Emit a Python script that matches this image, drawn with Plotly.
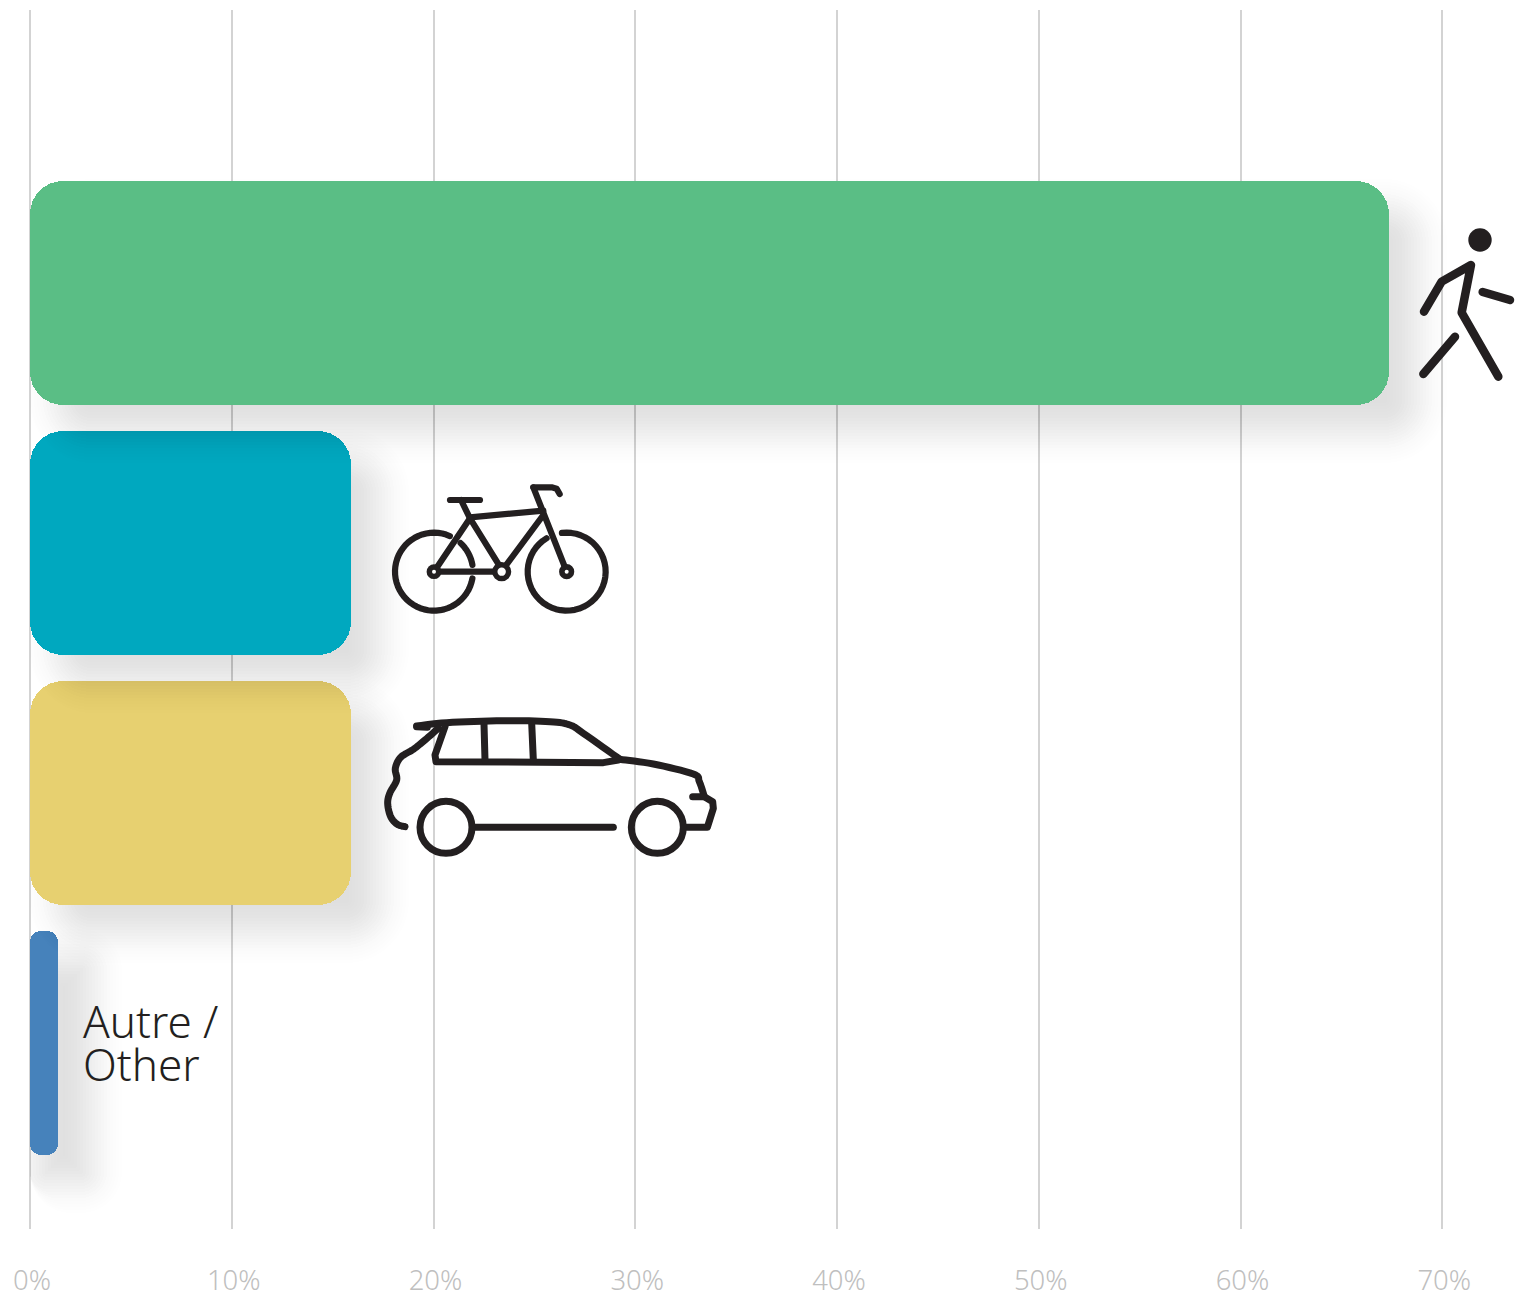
import math
import plotly.graph_objects as go

# ---- data ----
categories = ["Marche / Walk", "Vélo / Bike", "Voiture / Car", "Autre / Other"]
values = [67.35, 15.9, 15.9, 1.4]
colors = ["#5abe85", "#00a8bf", "#e7d070", "#4682bb"]
corner_radii = [33, 33, 33, 11]
tick_values = [0, 10, 20, 30, 40, 50, 60, 70]
tick_labels = ["0%", "10%", "20%", "30%", "40%", "50%", "60%", "70%"]
other_label = "Autre /<br>Other"

W, H = 1524, 1294
ML, MT, MB = 20, 10, 65
X0_PX = 30
PW, PH = W - ML, H - MT - MB
PX_PER_UNIT = 201.75 / 10
BAND = 250.0
BAR_PX = 224.0
XMIN = (ML - X0_PX) / PX_PER_UNIT
XMAX = (W - X0_PX) / PX_PER_UNIT
YTOP = (10 - 293) / BAND
YBOT = (1229 - 293) / BAND

fig = go.Figure()

def rounded_bar(y, start, length, width, color, radius):
    # an explicit base makes plotly round both ends of the bar
    fig.add_trace(go.Bar(
        y=[y], x=[length], base=[start], width=[width], orientation="h",
        marker=dict(color=color, line_width=0, cornerradius=radius),
        showlegend=False, hoverinfo="skip"))

# shadows + bars, bottom category first so that each shadow falls on the bar below it
SH_DY, SH_SIGMA = 28, 18
shadow_dx = [28, 28, 28, 6]
shadow_extra = [0, 0, 0, 28]
shadow_peak = [0.13, 0.13, 0.13, 0.13]
steps = list(range(45, -46, -3))
raw = [math.exp(-d * d / (2 * SH_SIGMA ** 2)) for d in steps]
total = sum(raw)
for i in range(len(values) - 1, -1, -1):
    v = values[i]
    len_px = v * PX_PER_UNIT
    for d, w in zip(steps, raw):
        left = max(shadow_dx[i] - d, 0)
        right = shadow_dx[i] + len_px + shadow_extra[i] + d
        hpx = BAR_PX + 2 * d
        if right - left <= 1 or hpx <= 1:
            continue
        rounded_bar(i + SH_DY / BAND, left / PX_PER_UNIT, (right - left) / PX_PER_UNIT, hpx / BAND,
                    f"rgba(0,0,0,{shadow_peak[i] * w / total:.5f})", max(corner_radii[i] + d, 2))
    rounded_bar(i, 0, v, BAR_PX / BAND, colors[i], corner_radii[i])

# ---- icons (drawn in picture pixels, converted to paper space) ----
INK = "#231f20"
def px(x): return (x - ML) / PW
def py(y): return 1 - (y - MT) / PH
shapes = []
def stroke(points, width):
    d = "M" + " L".join(f"{px(x):.6f},{py(y):.6f}" for x, y in points)
    shapes.append(dict(type="path", xref="paper", yref="paper", path=d,
                       line=dict(color=INK, width=width), fillcolor="rgba(0,0,0,0)", layer="above"))
def disc(cx, cy, r, fill=INK, line=None, lw=0):
    shapes.append(dict(type="circle", xref="paper", yref="paper",
                       x0=px(cx - r), x1=px(cx + r), y0=py(cy + r), y1=py(cy - r),
                       fillcolor=fill, line=dict(color=line or fill, width=lw), layer="above"))
def zoomed(pts, ox, oy):
    return [(ox + a / 3, oy + b / 3) for a, b in pts]
def smooth(pts, n=8):
    out = []
    p = [pts[0]] + list(pts) + [pts[-1]]
    for i in range(1, len(p) - 2):
        p0, p1, p2, p3 = p[i - 1], p[i], p[i + 1], p[i + 2]
        for k in range(n):
            t = k / n
            out.append(tuple(0.5 * (2 * p1[c] + (p2[c] - p0[c]) * t + (2 * p0[c] - 5 * p1[c] + 4 * p2[c] - p3[c]) * t * t
                             + (3 * p1[c] - p0[c] - 3 * p2[c] + p3[c]) * t ** 3) for c in (0, 1)))
    out.append(pts[-1])
    return out
def arc(cx, cy, r, a0, a1, n=48):
    return [(cx + r * math.cos(math.radians(a0 + (a1 - a0) * k / n)),
             cy + r * math.sin(math.radians(a0 + (a1 - a0) * k / n))) for k in range(n + 1)]

# walker
OX, OY = 1340, 160
disc(1480, 240, 11.7)
stroke(zoomed([(252, 455), (305, 365), (393, 315), (365, 458), (475, 650)], OX, OY), 8.5)
stroke(zoomed([(428, 396), (510, 420)], OX, OY), 8.5)
stroke(zoomed([(345, 530), (250, 642)], OX, OY), 8.5)

# bike
OX, OY = 330, 460
LW = 6.2
lc = (OX + 312 / 3, OY + 335 / 3)
rc = (OX + 710 / 3, OY + 335 / 3)
mc = (OX + 515 / 3, OY + 335 / 3)
stroke(arc(lc[0], lc[1], 39, -66, -350), LW)
stroke(arc(lc[0], lc[1], 39, -47, -10, 16), LW)
stroke(arc(rc[0], rc[1], 39, -97, 239), LW)
stroke(zoomed([(312, 335), (420, 175), (510, 320)], OX, OY), LW)
stroke(zoomed([(312, 335), (515, 335)], OX, OY), LW)
stroke(zoomed([(525, 320), (640, 165)], OX, OY), LW)
stroke(zoomed([(420, 172), (640, 152)], OX, OY), LW)
stroke(zoomed([(420, 175), (393, 120)], OX, OY), LW)
stroke(zoomed([(360, 120), (450, 120)], OX, OY), LW)
stroke(zoomed([(710, 335), (610, 82)], OX, OY), LW)
stroke(zoomed([(610, 82), (665, 82), (680, 86), (689, 102)], OX, OY), LW)
disc(lc[0], lc[1], 7.4); disc(lc[0], lc[1], 2, "#ffffff")
disc(rc[0], rc[1], 7.6); disc(rc[0], rc[1], 2, "#ffffff")
disc(mc[0], mc[1], 9.6); disc(mc[0], mc[1], 4.2, "#ffffff")

# car
OX, OY = 370, 700
LW = 7
stroke(zoomed(smooth([(140, 78), (230, 68), (400, 62), (540, 65), (600, 75), (640, 100), (750, 178)]), OX, OY), LW)
stroke(zoomed(smooth([(750, 178), (850, 192), (970, 222), (988, 245), (1003, 290)]), OX, OY), LW)
stroke(zoomed([(968, 290), (1003, 290), (1028, 305), (1030, 325), (1012, 382), (950, 382)], OX, OY), LW)
stroke(zoomed([(140, 80), (172, 82)], OX, OY), LW)
stroke(zoomed(smooth([(205, 85), (165, 120), (130, 148), (92, 172), (76, 205), (80, 240), (60, 278), (53, 310), (62, 350), (82, 373), (105, 380)]), OX, OY), LW)
stroke(zoomed([(225, 80), (195, 165), (198, 185), (700, 188), (745, 180)], OX, OY), LW)
stroke(zoomed([(342, 72), (345, 180)], OX, OY), LW)
stroke(zoomed([(485, 68), (490, 180)], OX, OY), LW)
stroke(zoomed([(315, 382), (730, 382)], OX, OY), LW)
for a in (228, 862):
    cx, cy = OX + a / 3, OY + 382 / 3
    disc(cx, cy, 26, "rgba(255,255,255,0)", INK, LW)

fig.update_layout(
    width=W, height=H, autosize=False,
    margin=dict(l=ML, r=0, t=MT, b=MB, pad=0, autoexpand=False),
    paper_bgcolor="#ffffff", plot_bgcolor="#ffffff",
    barmode="overlay", bargap=0, shapes=shapes,
    xaxis=dict(range=[XMIN, XMAX], tickmode="array", tickvals=tick_values, ticktext=tick_labels,
               showgrid=True, gridcolor="#d3d3d3", gridwidth=1.5, zeroline=False, showline=False,
               automargin=False, ticks="", ticklabelstandoff=32, ticklabelshift=2,
               tickfont=dict(family="Noto Sans", size=27.5, color="#bfbfbf", weight=300)),
    yaxis=dict(range=[YBOT, YTOP], showgrid=False, zeroline=False, showline=False,
               automargin=False, showticklabels=False, ticks=""),
    annotations=[
        dict(text=other_label, xref="paper", yref="paper", x=px(81), y=py(1049), xanchor="left", yanchor="middle",
             align="left", showarrow=False, font=dict(family="Noto Sans", size=44, color=INK, weight=300)),
    ],
)

post = """
document.body.style.margin = '0';
document.querySelectorAll('.shapelayer path').forEach(function (p) {
  p.style.strokeLinecap = 'round';
  p.style.strokeLinejoin = 'round';
});
document.querySelectorAll('.annotation-text tspan.line').forEach(function (t, i) {
  if (i > 0) { t.setAttribute('dy', '0.98em'); }
});
"""
fig.write_html("out.html", post_script=post, config={"displayModeBar": False})
